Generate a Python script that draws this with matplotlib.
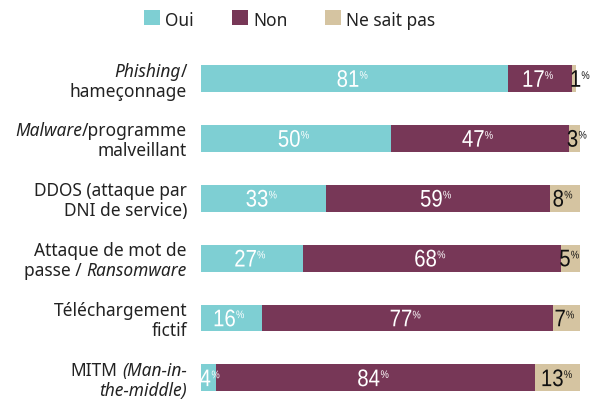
import matplotlib
matplotlib.use("Agg")
import matplotlib.pyplot as plt
from matplotlib.font_manager import FontProperties
from matplotlib.patches import PathPatch, Rectangle
from matplotlib.textpath import TextPath
from matplotlib.transforms import Affine2D, IdentityTransform

plt.rcParams["font.family"] = ["Noto Sans", "DejaVu Sans"]

# each label line is a list of (text, style) pieces
categories = [
    [[("Phishing", "italic"), ("/", "normal")], [("hameçonnage", "normal")]],
    [[("Malware", "italic"), ("/programme", "normal")], [("malveillant", "normal")]],
    [[("DDOS (attaque par", "normal")], [("DNI de service)", "normal")]],
    [[("Attaque de mot de", "normal")],
     [("passe /", "normal"), (" ", "normal"), ("Ransomware", "italic")]],
    [[("Téléchargement", "normal")], [("fictif", "normal")]],
    [[("MITM", "normal"), (" ", "normal"), ("(Man-in-", "italic")],
     [("the-middle)", "italic")]],
]
oui = [81, 50, 33, 27, 16, 4]
non = [17, 47, 59, 68, 77, 84]
nsp = [1, 3, 8, 5, 7, 13]
series_names = ["Oui", "Non", "Ne sait pas"]

C_OUI, C_NON, C_NSP = "#7ECFD3", "#773757", "#D5C4A1"
TXT = "#222222"
LABEL_SIZE = 12.5
NUM_FP = FontProperties(family="Liberation Sans")

W, H = 601, 400
fig = plt.figure(figsize=(W / 100, H / 100), dpi=100)
ax = fig.add_axes([201 / W, 0.0, 379 / W, (H - 48.6) / H])

ypos = list(range(len(oui)))
bh = 0.45
left_non = oui
left_nsp = [a + b for a, b in zip(oui, non)]
ax.barh(ypos, oui, height=bh, color=C_OUI)
ax.barh(ypos, non, left=left_non, height=bh, color=C_NON)
ax.barh(ypos, nsp, left=left_nsp, height=bh, color=C_NSP)
ax.set_xlim(0, 100)
ax.set_ylim(5.37, -0.5)
ax.axis("off")

renderer = fig.canvas.get_renderer()


def text_width(s, style, size):
    t = fig.text(0, 0, s, fontsize=size, style=style)
    w = t.get_window_extent(renderer).width
    t.remove()
    return w


space_w = text_width("a a", "normal", LABEL_SIZE) - text_width("aa", "normal", LABEL_SIZE)


def draw_line(pieces, x_right, y_base):
    widths = [space_w * len(s) if not s.strip() else text_width(s, st, LABEL_SIZE)
              for s, st in pieces]
    x = x_right - sum(widths)
    for (s, st), w in zip(pieces, widths):
        if s.strip():
            fig.text(x, y_base, s, fontsize=LABEL_SIZE, style=st, color=TXT,
                     ha="left", va="baseline", transform=IdentityTransform())
        x += w


# category labels, right-aligned left of the bars
for i, lines in enumerate(categories):
    yc = ax.transData.transform((0, i))[1]
    draw_line(lines[0], 187, yc + 2)
    draw_line(lines[1], 187, yc - 18)


def glyphs(s, size, sx, x0, y0, color):
    p = TextPath((0, 0), s, size=size, prop=NUM_FP)
    e = p.get_extents()
    tr = Affine2D().translate(-e.x0, -e.y1).scale(sx, 1).translate(x0, y0)
    fig.add_artist(PathPatch(p, transform=tr, color=color, lw=0))


def pct_label(seg_left, seg_w, i, v, color):
    """Condensed value with a small raised % sign, centred on a segment."""
    sx = 0.85
    num = TextPath((0, 0), str(v), size=24, prop=NUM_FP).get_extents()
    pc = TextPath((0, 0), "%", size=11, prop=NUM_FP).get_extents()
    wn, wp = num.width * sx, pc.width * sx
    total = wn + 1.5 + wp
    xl = ax.transData.transform((seg_left, i))[0]
    xc, yc = ax.transData.transform((seg_left + seg_w / 2, i))
    x0 = max(xc - 2 - total / 2, xl - 1)
    top = yc + num.height / 2
    glyphs(str(v), 24, sx, x0, top, color)
    glyphs("%", 11, sx, x0 + wn + 1.5, top - 1, color)


for i in ypos:
    pct_label(0, oui[i], i, oui[i], "white")
    pct_label(left_non[i], non[i], i, non[i], "white")
    pct_label(left_nsp[i], nsp[i], i, nsp[i], "#111111")

# legend row
for name, c, xs in zip(series_names, (C_OUI, C_NON, C_NSP), (144, 232, 325)):
    fig.add_artist(Rectangle((xs, H - 25), 16, 15, color=c, lw=0,
                             transform=IdentityTransform()))
    fig.text(xs + 21, H - 25.5, name, fontsize=LABEL_SIZE, color=TXT,
             ha="left", va="baseline", transform=IdentityTransform())

fig.savefig("out.png", dpi=100)
